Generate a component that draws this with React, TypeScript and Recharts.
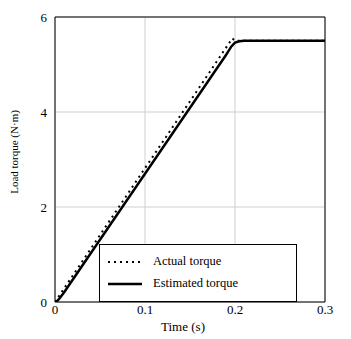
import React from 'react';
import { LineChart, Line, XAxis, YAxis, CartesianGrid, ReferenceLine, Legend } from 'recharts';

const actualTime = [0, 0.197, 0.2, 0.3];
const actualTorque = [0, 5.55, 5.5, 5.5];
const estTime = [0, 0.003, 0.006, 0.01, 0.1, 0.19, 0.196, 0.2, 0.205, 0.21, 0.3];
const estTorque = [0, 0.03, 0.1, 0.2, 2.7, 5.2, 5.38, 5.46, 5.49, 5.5, 5.5];
const xTicks = [0, 0.1, 0.2, 0.3];
const yTicks = [0, 2, 4, 6];

const actualData = actualTime.map((t, i) => ({ t, v: actualTorque[i] }));
const estData = estTime.map((t, i) => ({ t, v: estTorque[i] }));

const FONT = '"Liberation Serif", "Times New Roman", serif';

const LegendBox = () => (
  <div
    style={{
      width: 198,
      height: 58,
      border: '1px solid #000',
      background: '#fff',
      fontFamily: FONT,
      fontSize: 12.5,
      color: '#000',
      boxSizing: 'border-box',
      position: 'relative',
    }}
  >
    <svg width={40} height={56} style={{ position: 'absolute', left: 6, top: 0 }}>
      <line x1={2} y1={17} x2={36} y2={17} stroke="#000" strokeWidth={2} strokeDasharray="2 4" />
      <line x1={2} y1={39} x2={36} y2={39} stroke="#000" strokeWidth={2.5} />
    </svg>
    <div style={{ position: 'absolute', left: 53, top: 9 }}>Actual torque</div>
    <div style={{ position: 'absolute', left: 53, top: 31 }}>Estimated torque</div>
  </div>
);

const XTitle = () => (
  <text x={183} y={331} textAnchor="middle" fill="#000" fontFamily={FONT} fontSize={13}>
    Time (s)
  </text>
);

const YTitle = () => (
  <text
    x={14}
    y={152}
    transform="rotate(-90, 14, 152)"
    textAnchor="middle"
    dominantBaseline="central"
    fill="#000"
    fontFamily={FONT}
    fontSize={11}
  >
    Load torque  (N·m)
  </text>
);

export default function App() {
  return (
    <div style={{ position: 'absolute', left: 0, top: 0, background: '#fff' }}>
      <LineChart
        width={351}
        height={339}
        margin={{ top: 17, right: 26, left: 10, bottom: 7 }}
      >
        <CartesianGrid stroke="#cfcfcf" strokeWidth={1} />
        <XAxis
          dataKey="t"
          type="number"
          domain={[0, 0.3]}
          ticks={xTicks}
          tickLine={false}
          tickSize={3}
          axisLine={{ stroke: '#000', strokeWidth: 1 }}
          tick={{ fill: '#000', fontFamily: FONT, fontSize: 13 }}
          tickMargin={0}
          height={30}
          allowDataOverflow
          label={<XTitle />}
        />
        <YAxis
          type="number"
          domain={[0, 6]}
          ticks={yTicks}
          tickLine={false}
          axisLine={{ stroke: '#000', strokeWidth: 1 }}
          tick={{ fill: '#000', fontFamily: FONT, fontSize: 13 }}
          tickMargin={2}
          width={45}
          allowDataOverflow
          label={<YTitle />}
        />
        <ReferenceLine y={6} stroke="#000" strokeWidth={1} />
        <ReferenceLine x={0.3} stroke="#000" strokeWidth={1} />
        <Line
          data={estData}
          dataKey="v"
          type="linear"
          stroke="#000"
          strokeWidth={2.5}
          dot={false}
          isAnimationActive={false}
          name="Estimated torque"
        />
        <Line
          data={actualData}
          dataKey="v"
          type="linear"
          stroke="#000"
          strokeWidth={2}
          strokeDasharray="2 4"
          dot={false}
          isAnimationActive={false}
          name="Actual torque"
        />
        <Legend
          layout="horizontal"
          verticalAlign="middle"
          align="center"
          content={() => <LegendBox />}
          wrapperStyle={{ left: 99, top: 244, width: 198, height: 58 }}
        />
      </LineChart>
    </div>
  );
}
